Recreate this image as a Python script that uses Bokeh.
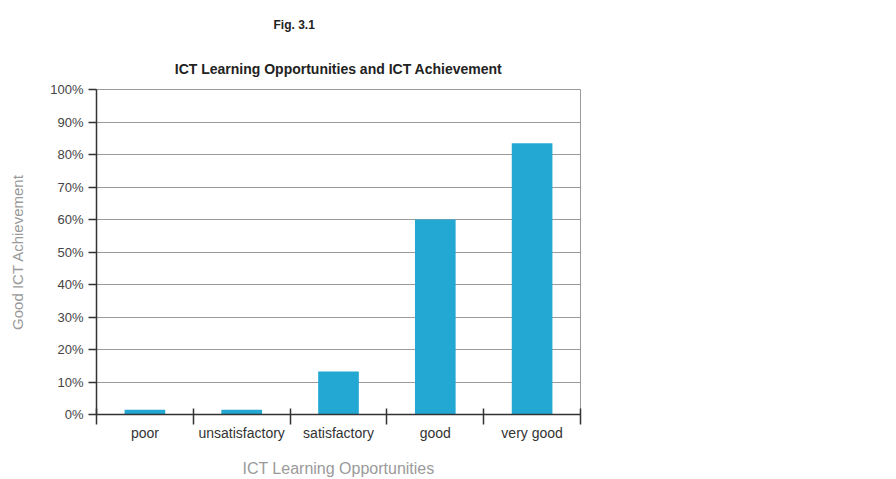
from bokeh.plotting import figure
from bokeh.models import (Range1d, FixedTicker, LinearAxis, Title, Grid,
                          PrintfTickFormatter)
from bokeh.embed import file_html
from bokeh.resources import INLINE

categories = ["poor", "unsatisfactory", "satisfactory", "good", "very good"]
values = [1.5, 1.5, 13.2, 60.0, 83.5]
y_ticks = list(range(0, 101, 10))

n = len(categories)
centers = [i + 0.5 for i in range(n)]
bounds = list(range(n + 1))

FONT = "Liberation Sans"
BAR = "#23a8d4"

p = figure(width=880, height=479, x_range=Range1d(0, n), y_range=Range1d(0, 100),
           output_backend="svg", toolbar_location=None,
           x_axis_type=None, y_axis_type=None,
           min_border_left=96, min_border_right=300,
           min_border_top=89, min_border_bottom=49)
p.outline_line_color = "#999999"
p.outline_line_width = 1
p.background_fill_color = "white"
p.border_fill_color = "white"

# y axis
yaxis = LinearAxis(ticker=FixedTicker(ticks=y_ticks),
                   formatter=PrintfTickFormatter(format="%d%%"),
                   axis_label="Good ICT Achievement",
                   axis_label_text_font=FONT, axis_label_text_font_size="15px",
                   axis_label_text_font_style="normal", axis_label_text_color="#9a9a9a",
                   axis_label_standoff=21,
                   major_label_text_font=FONT, major_label_text_font_size="13px",
                   major_label_text_color="#444444", major_label_standoff=5,
                   major_tick_out=8, major_tick_in=0, minor_tick_line_color=None,
                   axis_line_color="#333333", axis_line_width=1.5,
                   major_tick_line_color="#333333", major_tick_line_width=1.5)
p.add_layout(yaxis, "left")
p.add_layout(Grid(dimension=1, ticker=yaxis.ticker, grid_line_color="#9a9a9a",
                  grid_line_width=1))

# bottom axis with boundary ticks (no labels)
bx = LinearAxis(ticker=FixedTicker(ticks=bounds),
                major_label_overrides={b: "" for b in bounds},
                major_label_standoff=0,
                major_tick_out=10, major_tick_in=6, minor_tick_line_color=None,
                axis_line_color="#333333", axis_line_width=1.5,
                major_tick_line_color="#333333", major_tick_line_width=1.5)
p.add_layout(bx, "below")

# category labels axis
lx = LinearAxis(ticker=FixedTicker(ticks=centers),
                major_label_overrides={c: cat for c, cat in zip(centers, categories)},
                major_label_text_font=FONT, major_label_text_font_size="14px",
                major_label_text_color="#333333", major_label_standoff=-6,
                major_tick_line_color=None, minor_tick_line_color=None,
                axis_line_color=None,
                axis_label="ICT Learning Opportunities",
                axis_label_text_font=FONT, axis_label_text_font_size="16px",
                axis_label_text_font_style="normal", axis_label_text_color="#9a9a9a",
                axis_label_standoff=16)
p.add_layout(lx, "below")

p.vbar(x=centers, top=values, width=0.42, fill_color=BAR, line_color=None)

# titles
p.add_layout(Title(text="ICT Learning Opportunities and ICT Achievement", align="center",
                   text_font=FONT, text_font_size="14px", text_font_style="bold",
                   text_color="#222222", standoff=25), "above")
p.add_layout(Title(text="Fig. 3.1", align="left", offset=177,
                   text_font=FONT, text_font_size="12px", text_font_style="bold",
                   text_color="#222222", standoff=29), "above")

open("out.html", "w").write(file_html(p, INLINE))
